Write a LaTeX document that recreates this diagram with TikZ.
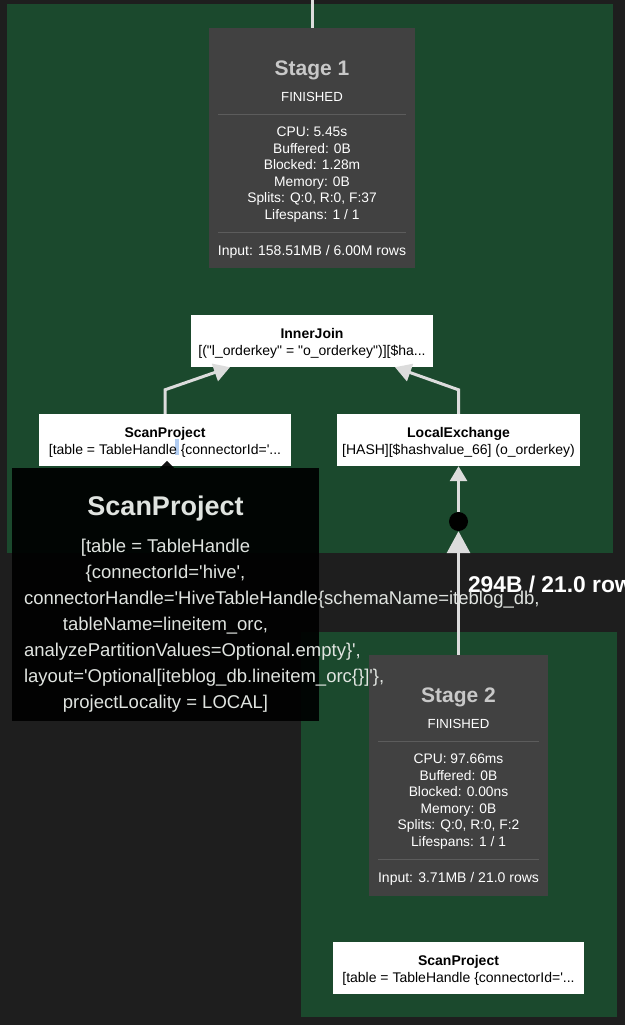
\documentclass[tikz,border=0pt]{standalone}
\usepackage{fontspec}
\setmainfont{Liberation Sans}
\usetikzlibrary{calc,arrows.meta}
\definecolor{bgc}{RGB}{30,30,30}
\definecolor{clus}{RGB}{27,73,45}
\definecolor{stagebg}{RGB}{65,65,65}
\definecolor{sepc}{RGB}{92,92,92}
\definecolor{edgec}{RGB}{220,220,220}
\definecolor{ttc}{RGB}{224,228,224}
\definecolor{stc}{RGB}{200,200,200}
\definecolor{selc}{RGB}{178,205,242}
\newcommand\pxsize[1]{\fontsize{#1pt}{#1pt}\selectfont}
\newcommand\sqt{\textquotesingle}
\newcommand\dqt{\textquotedbl}
\newcommand\stagetext[9]{%
  \node[stitle] (#1t) at ($(#1.north)+(0,48)$) {#2};
  \node[sstate] (#1f) at ($(#1.north)+(0,73.5)$) {FINISHED};
  \draw[sepline] ($(#1.north west)+(9,86.5)$) -- ($(#1.north east)+(-9,86.5)$);
  \node[sstat] (#1a) at ($(#1.north)+(0,109)$) {#3};
  \node[sstat] (#1b) at ($(#1.north)+(0,125.5)$) {#4};
  \node[sstat] (#1c) at ($(#1.north)+(0,142)$) {#5};
  \node[sstat] (#1d) at ($(#1.north)+(0,158.5)$) {#6};
  \node[sstat] (#1e) at ($(#1.north)+(0,175)$) {#7};
  \node[sstat] (#1g) at ($(#1.north)+(0,191.5)$) {#8};
  \draw[sepline] ($(#1.north west)+(9,205)$) -- ($(#1.north east)+(-9,205)$);
  \node[sinput] (#1i) at ($(#1.north)+(0,228)$) {#9};
}
\begin{document}
\begin{tikzpicture}[x=1pt,y=-1pt,
  txt/.style={inner sep=0pt, outer sep=0pt, anchor=base},
  stagebox/.style={rectangle, fill=stagebg, draw=none, inner sep=0pt},
  opbox/.style={rectangle, fill=white, draw=none, inner sep=0pt, minimum height=52pt},
  stitle/.style={txt, text=stc, font=\pxsize{21}\bfseries},
  sstate/.style={txt, text=white, font=\pxsize{13.2}},
  sstat/.style={txt, text=white, font=\pxsize{13.8}},
  sinput/.style={txt, text=white, font=\pxsize{14}},
  sepline/.style={draw=sepc, line width=0.8pt},
  optitle/.style={txt, text=black, font=\pxsize{14}\bfseries},
  opsub/.style={txt, text=black, font=\pxsize{14}},
  edge/.style={draw=edgec, line width=3pt},
  arrs/.style={-{Triangle[length=16pt,width=18pt]}, edgec},
  ttline/.style={txt, text=ttc, font=\pxsize{18.5}},
  ttleft/.style={txt, anchor=base west, text=ttc, font=\pxsize{18.5}},
  lblstyle/.style={txt, anchor=base west, text=white, font=\pxsize{22.8}\bfseries}
]
\useasboundingbox (0,0) rectangle (625,1025);
\fill[bgc] (0,0) rectangle (625,1025);
\clip (0,0) rectangle (625,1025);

% clusters
\fill[clus] (7,4) rectangle (613,553);
\fill[clus] (301,632) rectangle (617,1017);

% stage boxes
\node[stagebox, minimum width=206pt, minimum height=240pt] (s1) at (312,148) {};
\stagetext{s1}{Stage 1}{CPU: 5.45s}{Buffered: 0B}{Blocked: 1.28m}{Memory: 0B}{Splits: Q:0, R:0, F:37}{Lifespans: 1 / 1}{Input: 158.51MB / 6.00M rows}

\node[stagebox, minimum width=179pt, minimum height=241pt] (s2) at (458.5,775.5) {};
\stagetext{s2}{Stage 2}{CPU: 97.66ms}{Buffered: 0B}{Blocked: 0.00ns}{Memory: 0B}{Splits: Q:0, R:0, F:2}{Lifespans: 1 / 1}{Input: 3.71MB / 21.0 rows}

% operator boxes
\node[opbox, minimum width=242pt] (ij) at (312,341) {};
\node[optitle] (ijt) at ($(ij.north)+(0,23.5)$) {InnerJoin};
\node[opsub] (ijs) at ($(ij.north)+(0,40.5)$) {[(\dqt l\_orderkey\dqt{} = \dqt o\_orderkey\dqt)][\$ha...};

\node[opbox, minimum width=252pt] (sp1) at (165,440) {};
\fill[selc] (175,439) rectangle (179,455);
\node[optitle] (sp1t) at ($(sp1.north)+(0,23.5)$) {ScanProject};
\node[opsub] (sp1s) at ($(sp1.north)+(0,40.5)$) {[table = TableHandle \{connectorId=\sqt...};

\node[opbox, minimum width=243pt] (lx) at (458.5,440) {};
\node[optitle] (lxt) at ($(lx.north)+(0,23.5)$) {LocalExchange};
\node[opsub] (lxs) at ($(lx.north)+(0,40.5)$) {[HASH][\$hashvalue\_66] (o\_orderkey)};

\node[opbox, minimum width=251pt] (sp2) at (458.5,968) {};
\node[optitle] (sp2t) at ($(sp2.north)+(0,23.5)$) {ScanProject};
\node[opsub] (sp2s) at ($(sp2.north)+(0,40.5)$) {[table = TableHandle \{connectorId=\sqt...};

% dot
\node[circle, fill=black, minimum size=19pt, inner sep=0pt] (dot) at (458.5,521.5) {};

% edges
\coordinate (topc) at (312,0);
\draw[edge] (topc) -- (s1.north);
\draw[edge, arrs] (sp1.north) -- ++(0,-24) -- ($(ij.south)+(-82,0)$);
\draw[edge, arrs] (lx.north) -- ++(0,-24) -- ($(ij.south)+(83,0)$);
\draw[edge, -{Triangle[length=22pt,width=23pt]}, edgec] (s2.north) -- (dot.south);
\draw[edge, -{Triangle[length=15pt,width=17pt]}, edgec] (dot.north) -- (lx.south);

% edge label
\node[lblstyle] (lbl) at (468,592) {294B / 21.0 rows};

% tooltip
\node[rectangle, fill=black, fill opacity=0.93, draw=none, inner sep=0pt, minimum width=307pt, minimum height=253pt] (tt) at (165.5,594.5) {};
\fill[black, opacity=0.93] ($(tt.north)+(-5.5,0)$) -- ($(tt.north)+(1.5,-7)$) -- ($(tt.north)+(8.5,0)$) -- cycle;
\node[txt, text=ttc, font=\pxsize{27}\bfseries] (ttt) at (165.5,515) {ScanProject};
\node[ttline] (tt1) at (165.5,552) {[table = TableHandle};
\node[ttline] (tt2) at (165.5,578) {\{connectorId=\sqt hive\sqt,};
\node[ttleft] (tt3) at (24,604) {connectorHandle=\sqt HiveTableHandle\{schemaName=iteblog\_db,};
\node[ttline] (tt4) at (165.5,630) {tableName=lineitem\_orc,};
\node[ttleft] (tt5) at (24,656) {analyzePartitionValues=Optional.empty\}\sqt,};
\node[ttleft] (tt6) at (24,682) {layout=\sqt Optional[iteblog\_db.lineitem\_orc\{\}]\sqt\},};
\node[ttline] (tt7) at (165.5,708) {projectLocality = LOCAL]};
\end{tikzpicture}
\end{document}
